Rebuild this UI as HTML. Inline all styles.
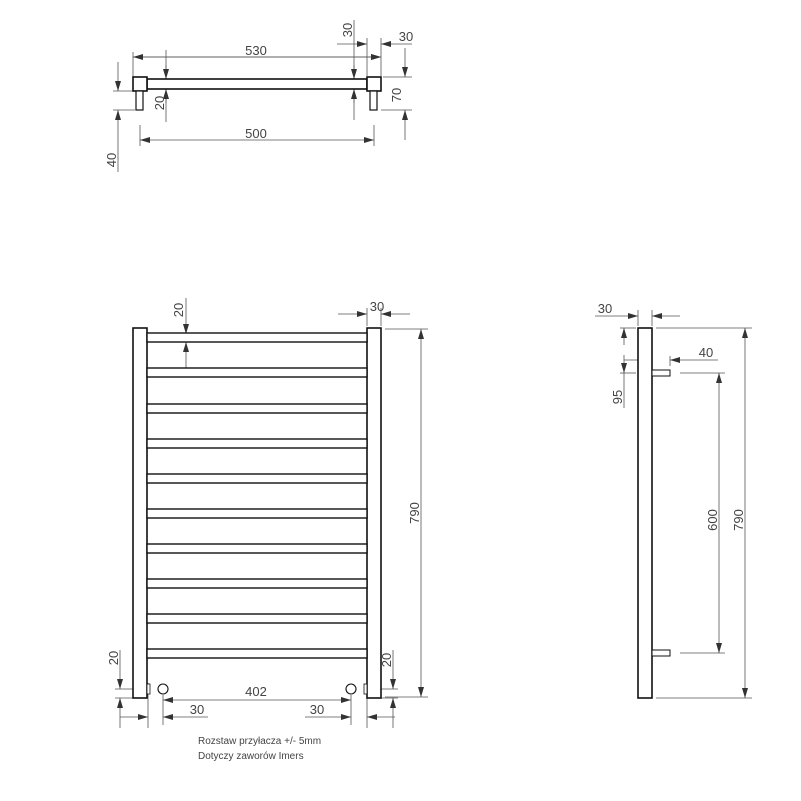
<!DOCTYPE html>
<html><head><meta charset="utf-8"><style>
html,body{margin:0;padding:0;background:#fff}
svg{display:block}
text{font-family:"Liberation Sans",sans-serif;fill:#444;font-size:13px}
</style></head><body>
<svg width="801" height="801" viewBox="0 0 801 801" xmlns="http://www.w3.org/2000/svg">
<defs>
<marker id="a" viewBox="0 0 10 6" refX="10" refY="3" markerWidth="10" markerHeight="6" markerUnits="userSpaceOnUse" orient="auto"><path d="M0,0 L10,3 L0,6 z" fill="#333"/></marker>
</defs>
<g stroke="#555" stroke-width="0.8" fill="none">
<!-- top view dims -->
<line x1="133" y1="57" x2="381" y2="57" marker-start="url(#a)" marker-end="url(#a)" style="marker-start:none"/>
<line x1="250" y1="57" x2="133" y2="57" marker-end="url(#a)"/>
<line x1="250" y1="57" x2="381" y2="57" marker-end="url(#a)"/>
<line x1="133" y1="52" x2="133" y2="78"/>
<line x1="166" y1="50" x2="166" y2="122"/>
<line x1="166" y1="65" x2="166" y2="79" marker-end="url(#a)"/>
<line x1="166" y1="103" x2="166" y2="89" marker-end="url(#a)"/>
<line x1="354" y1="20" x2="354" y2="120"/>
<line x1="354" y1="65" x2="354" y2="79" marker-end="url(#a)"/>
<line x1="354" y1="103" x2="354" y2="89" marker-end="url(#a)"/>
<line x1="337" y1="44" x2="367" y2="44" marker-end="url(#a)"/>
<line x1="412" y1="44" x2="381" y2="44" marker-end="url(#a)"/>
<line x1="367" y1="38" x2="367" y2="76"/>
<line x1="381" y1="38" x2="381" y2="76"/>
<line x1="383" y1="77" x2="412" y2="77"/>
<line x1="381" y1="110" x2="412" y2="110"/>
<line x1="405" y1="48" x2="405" y2="77" marker-end="url(#a)"/>
<line x1="405" y1="140" x2="405" y2="110" marker-end="url(#a)"/>
<line x1="256" y1="140" x2="140" y2="140" marker-end="url(#a)"/>
<line x1="256" y1="140" x2="374" y2="140" marker-end="url(#a)"/>
<line x1="140" y1="125" x2="140" y2="146"/>
<line x1="374" y1="125" x2="374" y2="146"/>
<line x1="113" y1="91" x2="135" y2="91"/>
<line x1="113" y1="110" x2="135" y2="110"/>
<line x1="118" y1="62" x2="118" y2="91" marker-end="url(#a)"/>
<line x1="118" y1="172" x2="118" y2="110" marker-end="url(#a)"/>

<!-- front view dims -->
<line x1="186" y1="298" x2="186" y2="334" marker-end="url(#a)"/>
<line x1="186" y1="372" x2="186" y2="342" marker-end="url(#a)"/>
<line x1="338" y1="314" x2="367" y2="314" marker-end="url(#a)"/>
<line x1="410" y1="314" x2="381" y2="314" marker-end="url(#a)"/>
<line x1="367" y1="308" x2="367" y2="326"/>
<line x1="381" y1="308" x2="381" y2="326"/>
<line x1="385" y1="329" x2="428" y2="329"/>
<line x1="385" y1="697" x2="428" y2="697"/>
<line x1="421" y1="513" x2="421" y2="329" marker-end="url(#a)"/>
<line x1="421" y1="513" x2="421" y2="697" marker-end="url(#a)"/>
<line x1="115" y1="689" x2="148" y2="689"/>
<line x1="115" y1="698" x2="133" y2="698"/>
<line x1="120" y1="650" x2="120" y2="689" marker-end="url(#a)"/>
<line x1="120" y1="728" x2="120" y2="698" marker-end="url(#a)"/>
<line x1="367" y1="689" x2="398" y2="689"/>
<line x1="381" y1="698" x2="398" y2="698"/>
<line x1="393" y1="650" x2="393" y2="689" marker-end="url(#a)"/>
<line x1="393" y1="728" x2="393" y2="698" marker-end="url(#a)"/>
<line x1="256" y1="700" x2="163" y2="700" marker-end="url(#a)"/>
<line x1="256" y1="700" x2="351" y2="700" marker-end="url(#a)"/>
<line x1="148" y1="683" x2="148" y2="728"/>
<line x1="163" y1="695" x2="163" y2="725"/>
<line x1="351" y1="695" x2="351" y2="725"/>
<line x1="367" y1="683" x2="367" y2="728"/>
<line x1="120" y1="717" x2="148" y2="717" marker-end="url(#a)"/>
<line x1="208" y1="717" x2="163" y2="717" marker-end="url(#a)"/>
<line x1="305" y1="717" x2="351" y2="717" marker-end="url(#a)"/>
<line x1="395" y1="717" x2="367" y2="717" marker-end="url(#a)"/>

<!-- side view dims -->
<line x1="595" y1="316" x2="638" y2="316" marker-end="url(#a)"/>
<line x1="680" y1="316" x2="652" y2="316" marker-end="url(#a)"/>
<line x1="638" y1="310" x2="638" y2="326"/>
<line x1="652" y1="310" x2="652" y2="326"/>
<line x1="620" y1="328" x2="636" y2="328"/>
<line x1="620" y1="373" x2="636" y2="373"/>
<line x1="624" y1="345" x2="624" y2="328" marker-end="url(#a)"/>
<line x1="624" y1="355" x2="624" y2="373" marker-end="url(#a)"/>
<line x1="624" y1="373" x2="624" y2="408"/>
<line x1="624" y1="360" x2="652" y2="360" marker-end="url(#a)"/>
<line x1="718" y1="360" x2="670" y2="360" marker-end="url(#a)"/>
<line x1="670" y1="356" x2="670" y2="366"/>
<line x1="680" y1="373" x2="725" y2="373"/>
<line x1="680" y1="653" x2="725" y2="653"/>
<line x1="719" y1="513" x2="719" y2="373" marker-end="url(#a)"/>
<line x1="719" y1="513" x2="719" y2="653" marker-end="url(#a)"/>
<line x1="656" y1="328" x2="752" y2="328"/>
<line x1="656" y1="698" x2="752" y2="698"/>
<line x1="745" y1="513" x2="745" y2="328" marker-end="url(#a)"/>
<line x1="745" y1="513" x2="745" y2="698" marker-end="url(#a)"/>
</g>

<g stroke="#111" stroke-width="1.6" fill="#fff">
<!-- top view -->
<rect x="147" y="79" width="220" height="10"/>
<rect x="133" y="77" width="14" height="14"/>
<rect x="136" y="91" width="7" height="19" stroke-width="1.2"/>
<rect x="367" y="77" width="14" height="14"/>
<rect x="370" y="91" width="7" height="19" stroke-width="1.2"/>
<!-- front view -->
<rect x="133" y="328" width="14" height="370"/>
<rect x="367" y="328" width="14" height="370"/>
<g stroke-width="1.4">
<rect x="147" y="333" width="220" height="9"/>
<rect x="147" y="368" width="220" height="9"/>
<rect x="147" y="404" width="220" height="9"/>
<rect x="147" y="439" width="220" height="9"/>
<rect x="147" y="474" width="220" height="9"/>
<rect x="147" y="509" width="220" height="9"/>
<rect x="147" y="544" width="220" height="9"/>
<rect x="147" y="579" width="220" height="9"/>
<rect x="147" y="614" width="220" height="9"/>
<rect x="147" y="649" width="220" height="9"/>
</g>
<circle cx="163" cy="689" r="5" stroke-width="1.1"/>
<circle cx="351" cy="689" r="5" stroke-width="1.1"/>
<rect x="147" y="684" width="3" height="10" stroke-width="0.8"/>
<rect x="364" y="684" width="3" height="10" stroke-width="0.8"/>
<!-- side view -->
<rect x="638" y="328" width="14" height="370"/>
<rect x="652" y="370" width="18" height="6" stroke-width="1"/>
<rect x="652" y="650" width="18" height="6" stroke-width="1"/>
</g>

<g>
<text x="256" y="55" text-anchor="middle">530</text>
<text x="406" y="41" text-anchor="middle">30</text>
<text x="256" y="138" text-anchor="middle">500</text>
<text transform="translate(352,30) rotate(-90)" text-anchor="middle">30</text>
<text transform="translate(164,103) rotate(-90)" text-anchor="middle">20</text>
<text transform="translate(401,95) rotate(-90)" text-anchor="middle">70</text>
<text transform="translate(116,160) rotate(-90)" text-anchor="middle">40</text>

<text transform="translate(183,310) rotate(-90)" text-anchor="middle">20</text>
<text x="377" y="311" text-anchor="middle">30</text>
<text transform="translate(419,513) rotate(-90)" text-anchor="middle">790</text>
<text transform="translate(118,658) rotate(-90)" text-anchor="middle">20</text>
<text transform="translate(391,660) rotate(-90)" text-anchor="middle">20</text>
<text x="256" y="696" text-anchor="middle">402</text>
<text x="197" y="714" text-anchor="middle">30</text>
<text x="317" y="714" text-anchor="middle">30</text>

<text x="605" y="313" text-anchor="middle">30</text>
<text x="706" y="357" text-anchor="middle">40</text>
<text transform="translate(622,397) rotate(-90)" text-anchor="middle">95</text>
<text transform="translate(717,520) rotate(-90)" text-anchor="middle">600</text>
<text transform="translate(743,520) rotate(-90)" text-anchor="middle">790</text>

<text x="198" y="744" style="font-size:10px">Rozstaw przyłacza +/- 5mm</text>
<text x="198" y="759" style="font-size:10px">Dotyczy zaworów Imers</text>
</g>
</svg>
</body></html>
